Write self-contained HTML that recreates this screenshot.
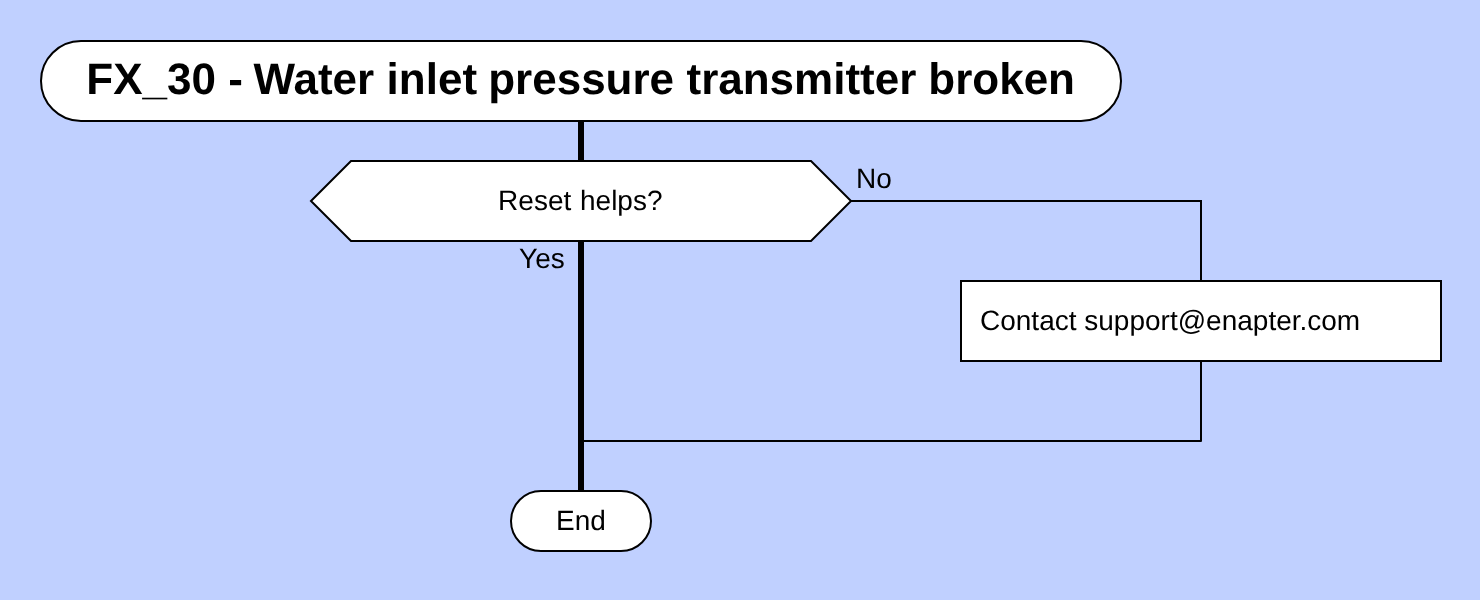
<!DOCTYPE html>
<html><head><meta charset="utf-8">
<style>
html,body{margin:0;padding:0;background:#c0d0ff;width:1480px;height:600px;overflow:hidden}
svg{display:block;will-change:transform}
text{font-family:"Liberation Sans",sans-serif;fill:#000;text-rendering:geometricPrecision}
</style></head>
<body>
<svg width="1480" height="600" viewBox="0 0 1480 600">
<rect x="0" y="0" width="1480" height="600" fill="#c0d0ff"/>
<!-- skewer -->
<rect x="578" y="121" width="6" height="370" fill="#000"/>
<!-- No branch -->
<polyline points="851,201 1201,201 1201,281" fill="none" stroke="#000" stroke-width="2"/>
<polyline points="1201,361 1201,441 584,441" fill="none" stroke="#000" stroke-width="2" stroke-linejoin="round"/>
<!-- title -->
<rect x="41" y="41" width="1080" height="80" rx="40" ry="40" fill="#fff" stroke="#000" stroke-width="2"/>
<text y="94" font-size="44" font-weight="bold"><tspan x="86.3">FX_30</tspan><tspan x="228.2">-</tspan><tspan x="253.6">Water</tspan><tspan x="386.6">inlet</tspan><tspan x="488.2">pressure</tspan><tspan x="686.5">transmitter</tspan><tspan x="928.3">broken</tspan></text>
<!-- question -->
<polygon points="311,201 351,161 811,161 851,201 811,241 351,241" fill="#fff" stroke="#000" stroke-width="2"/>
<text y="210" font-size="28"><tspan x="498.1">Reset</tspan><tspan x="580">helps?</tspan></text>
<text x="856" y="188" font-size="28">No</text>
<text x="519.1" y="268" font-size="28">Yes</text>
<!-- action -->
<rect x="961" y="281" width="480" height="80" fill="#fff" stroke="#000" stroke-width="2"/>
<text x="980" y="330" font-size="28">Contact support@enapter.com</text>
<!-- end -->
<rect x="511" y="491" width="140" height="60" rx="30" ry="30" fill="#fff" stroke="#000" stroke-width="2"/>
<text x="581" y="530" font-size="28" text-anchor="middle">End</text>
</svg>
</body></html>
